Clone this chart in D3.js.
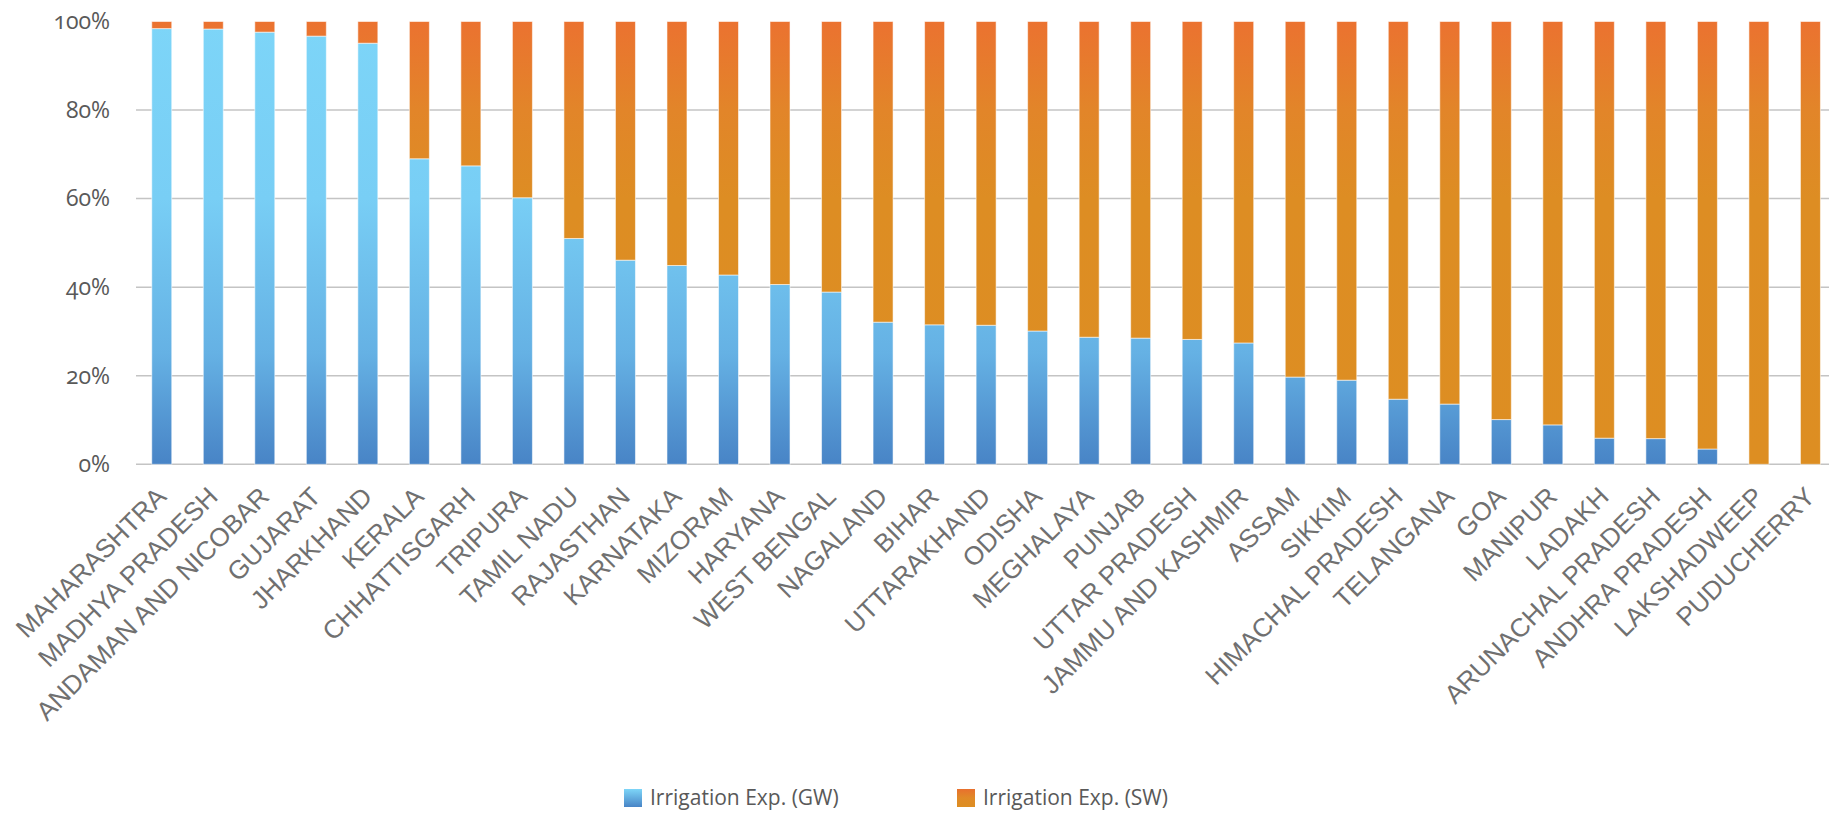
<!DOCTYPE html>
<html>
<head>
<meta charset="utf-8">
<script src="https://cdn.jsdelivr.net/npm/d3@7"></script>
<style>
  html, body { margin: 0; padding: 0; background: #fff; }
  svg { display: block; }
</style>
</head>
<body>
<svg id="chart" width="1829" height="813"></svg>
<script>
const categories = ["MAHARASHTRA","MADHYA PRADESH","ANDAMAN AND NICOBAR","GUJARAT","JHARKHAND","KERALA","CHHATTISGARH","TRIPURA","TAMIL NADU","RAJASTHAN","KARNATAKA","MIZORAM","HARYANA","WEST BENGAL","NAGALAND","BIHAR","UTTARAKHAND","ODISHA","MEGHALAYA","PUNJAB","UTTAR PRADESH","JAMMU AND KASHMIR","ASSAM","SIKKIM","HIMACHAL PRADESH","TELANGANA","GOA","MANIPUR","LADAKH","ARUNACHAL PRADESH","ANDHRA PRADESH","LAKSHADWEEP","PUDUCHERRY"];
const gwShare = [98.4,98.3,97.6,96.7,95.1,69.0,67.4,60.2,51.0,46.1,44.9,42.75,40.6,38.9,32.1,31.5,31.4,30.1,28.7,28.5,28.2,27.4,19.7,19.0,14.7,13.6,10.1,8.9,5.9,5.8,3.45,0,0];
const swShare = [1.6,1.7,2.4,3.3,4.9,31.0,32.6,39.8,49.0,53.9,55.1,57.25,59.4,61.1,67.9,68.5,68.6,69.9,71.3,71.5,71.8,72.6,80.3,81.0,85.3,86.4,89.9,91.1,94.1,94.2,96.55,100,100];
const yTicks = [0,20,40,60,80,100];
const seriesNames = ["Irrigation Exp. (GW)","Irrigation Exp. (SW)"];

const svg = d3.select("#chart");
const plotLeft = 136, plotRight = 1836.2, plotTop = 21.5, plotBottom = 464.3;

const x = d3.scaleBand().domain(categories).range([plotLeft, plotRight]).paddingInner(0.612).paddingOuter(0.306);
const y = d3.scaleLinear().domain([0, 100]).range([plotBottom, plotTop]);

const defs = svg.append("defs");
function grad(id, stops, userSpace) {
  const g = defs.append("linearGradient").attr("id", id).attr("x1", 0).attr("x2", 0);
  if (userSpace) {
    g.attr("gradientUnits", "userSpaceOnUse").attr("y1", y(100)).attr("y2", y(0));
  } else {
    g.attr("y1", 0).attr("y2", 1);
  }
  stops.forEach(s => g.append("stop").attr("offset", s[0]).attr("stop-color", s[1]));
}
const gwStops = [[0,"#7dd5f8"],[0.4,"#78cef5"],[0.75,"#65b1e4"],[1,"#4884c6"]];
const swStops = [[0,"#eb7230"],[0.2,"#e28529"],[0.4,"#dd8d23"],[1,"#dd8e22"]];
grad("gwGrad", gwStops, true);
grad("swGrad", swStops, true);
grad("gwLeg", [[0,"#7dd5f8"],[1,"#4884c6"]], false);
grad("swLeg", [[0,"#e8702e"],[0.5,"#e08a27"],[1,"#dd8e22"]], false);

// gridlines
svg.append("g").selectAll("line").data(yTicks.filter(d => d < 100)).join("line")
  .attr("x1", plotLeft).attr("x2", 1829)
  .attr("y1", d => y(d)).attr("y2", d => y(d))
  .attr("stroke", "#c4c4c4").attr("stroke-width", 1.5);

// y axis
const yAxis = svg.append("g").attr("transform", `translate(${plotLeft},0)`)
  .call(d3.axisLeft(y).tickValues(yTicks).tickFormat(d => d + "%").tickSize(0).tickPadding(26));
yAxis.select(".domain").remove();
yAxis.selectAll("text")
  .attr("font-family", "'Open Sans', Lato, sans-serif")
  .attr("font-size", 23)
  .attr("fill", "#595959")
  .style("font-feature-settings", "'onum' 1")
  .style("font-variant-numeric", "oldstyle-nums");

// bars
const rows = categories.map((c, i) => ({ c, gw: gwShare[i], sw: swShare[i] }));
const barG = svg.append("g");
barG.selectAll("rect.gw").data(rows).join("rect").attr("class", "gw")
  .attr("x", d => x(d.c)).attr("width", x.bandwidth())
  .attr("y", d => y(d.gw)).attr("height", d => y(0) - y(d.gw))
  .attr("fill", "url(#gwGrad)")
  .attr("stroke", "rgba(255,255,255,0.55)").attr("stroke-width", 1)
  .attr("display", d => d.gw > 0 ? null : "none");
barG.selectAll("rect.sw").data(rows).join("rect").attr("class", "sw")
  .attr("x", d => x(d.c)).attr("width", x.bandwidth())
  .attr("y", d => y(d.gw + d.sw)).attr("height", d => y(d.gw) - y(d.gw + d.sw))
  .attr("fill", "url(#swGrad)")
  .attr("stroke", "rgba(255,255,255,0.55)").attr("stroke-width", 1);

// x labels
svg.append("g").selectAll("text").data(categories).join("text")
  .attr("transform", d => `translate(${x(d) + x.bandwidth() / 2 + 6},${plotBottom + 34}) rotate(-45)`)
  .attr("text-anchor", "end")
  .attr("font-family", "'Liberation Sans', Arial, sans-serif")
  .attr("font-size", 26)
  .attr("fill", "#707070")
  .text(d => d);

// legend
const legend = svg.append("g");
const legItems = [
  { name: seriesNames[0], fill: "url(#gwLeg)", x: 624 },
  { name: seriesNames[1], fill: "url(#swLeg)", x: 957 }
];
const li = legend.selectAll("g").data(legItems).join("g").attr("transform", d => `translate(${d.x},789)`);
li.append("rect").attr("width", 18).attr("height", 18).attr("fill", d => d.fill);
li.append("text").attr("x", 26).attr("y", 9).attr("dy", "0.35em")
  .attr("font-family", "'Open Sans', 'Noto Sans', sans-serif")
  .attr("font-size", 21).attr("fill", "#595959")
  .text(d => d.name);
</script>
</body>
</html>
